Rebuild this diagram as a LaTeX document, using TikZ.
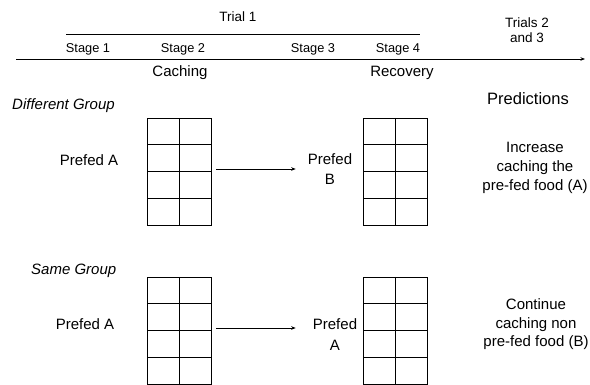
\documentclass[tikz,border=0pt]{standalone}
\usepackage{fontspec}
\setmainfont{Liberation Sans}
\usetikzlibrary{arrows.meta,calc}
\tikzset{
  lbl/.style={inner sep=0pt, anchor=base, font=\fontsize{15}{20.5}\selectfont, align=center},
  stagelbl/.style={inner sep=0pt, anchor=base, font=\fontsize{12.8}{15}\selectfont},
  triallbl/.style={inner sep=0pt, anchor=base, font=\fontsize{13.5}{15}\selectfont, align=center},
  grplbl/.style={inner sep=0pt, anchor=base west, font=\fontsize{15}{18}\selectfont\itshape},
  predlbl/.style={inner sep=0pt, anchor=base, font=\fontsize{15}{19}\selectfont, align=center},
  cachegrid/.style={draw, line width=0.8pt, minimum width=64pt, minimum height=107pt, inner sep=0pt,
    path picture={
      \draw[line width=0.8pt] (path picture bounding box.north) -- (path picture bounding box.south);
      \foreach \f in {0.25,0.5,0.75}
        \draw[line width=0.8pt] ($(path picture bounding box.north west)!\f!(path picture bounding box.south west)$)
          -- ($(path picture bounding box.north east)!\f!(path picture bounding box.south east)$);
    }},
  arr/.style={line width=0.8pt, -{Stealth[length=4.5pt,width=3.5pt]}},
  plain/.style={line width=0.8pt}
}
\begin{document}
\begin{tikzpicture}[x=1pt,y=-1pt]
\useasboundingbox (0,0) rectangle (590,385);
% timeline
\coordinate (axS) at (16,59);
\coordinate (axE) at (585,59);
\draw[arr] (axS) -- (axE);
\coordinate (trS) at (66,34);
\coordinate (trE) at (420,34);
\draw[plain] (trS) -- (trE);
\node[triallbl] (trial1) at (238,22) {Trial 1};
\node[triallbl] (trials23) at (527,43) {Trials 2\\and 3};
\node[stagelbl] (s1) at (88,52.5) {Stage 1};
\node[stagelbl] (s2) at (183,52.5) {Stage 2};
\node[stagelbl] (s3) at (313,52.5) {Stage 3};
\node[stagelbl] (s4) at (398,52.5) {Stage 4};
\node[lbl] (caching) at (180,77) {Caching};
\node[lbl] (recovery) at (402,77) {Recovery};
\node[inner sep=0pt, anchor=base, font=\fontsize{16.5}{19}\selectfont] (pred) at (528,105) {Predictions};
% different group
\node[grplbl] (dg) at (12,110) {Different Group};
\node[lbl] (pa1) at (89,166) {Prefed A};
\node[cachegrid] (g1) at (179,171.5) {};
\node[cachegrid] (g2) at (395,171.5) {};
\node[lbl] (pb) at (330,185) {Prefed\\B};
\coordinate (a1s) at ([xshift=5pt,yshift=2.5pt]g1.east);
\coordinate (a1e) at ([xshift=-12pt]pb.west);
\draw[arr] (a1s) -- (a1s -| a1e);
\node[predlbl] (p1) at (535,191) {Increase\\caching the\\pre-fed food (A)};
% same group
\node[grplbl] (sg) at (31,275) {Same Group};
\node[lbl] (pa2) at (85,330) {Prefed A};
\node[cachegrid] (g3) at (179,330.5) {};
\node[cachegrid] (g4) at (395.5,330.5) {};
\node[lbl] (pa3) at (335,350) {Prefed\\A};
\coordinate (a2s) at ([xshift=5pt,yshift=2.5pt]g3.east);
\coordinate (a2e) at ([xshift=-17pt]pa3.west);
\draw[arr] (a2s) -- (a2s -| a2e);
\node[predlbl] (p2) at (536,347) {Continue\\caching non\\pre-fed food (B)};
\end{tikzpicture}
\end{document}
